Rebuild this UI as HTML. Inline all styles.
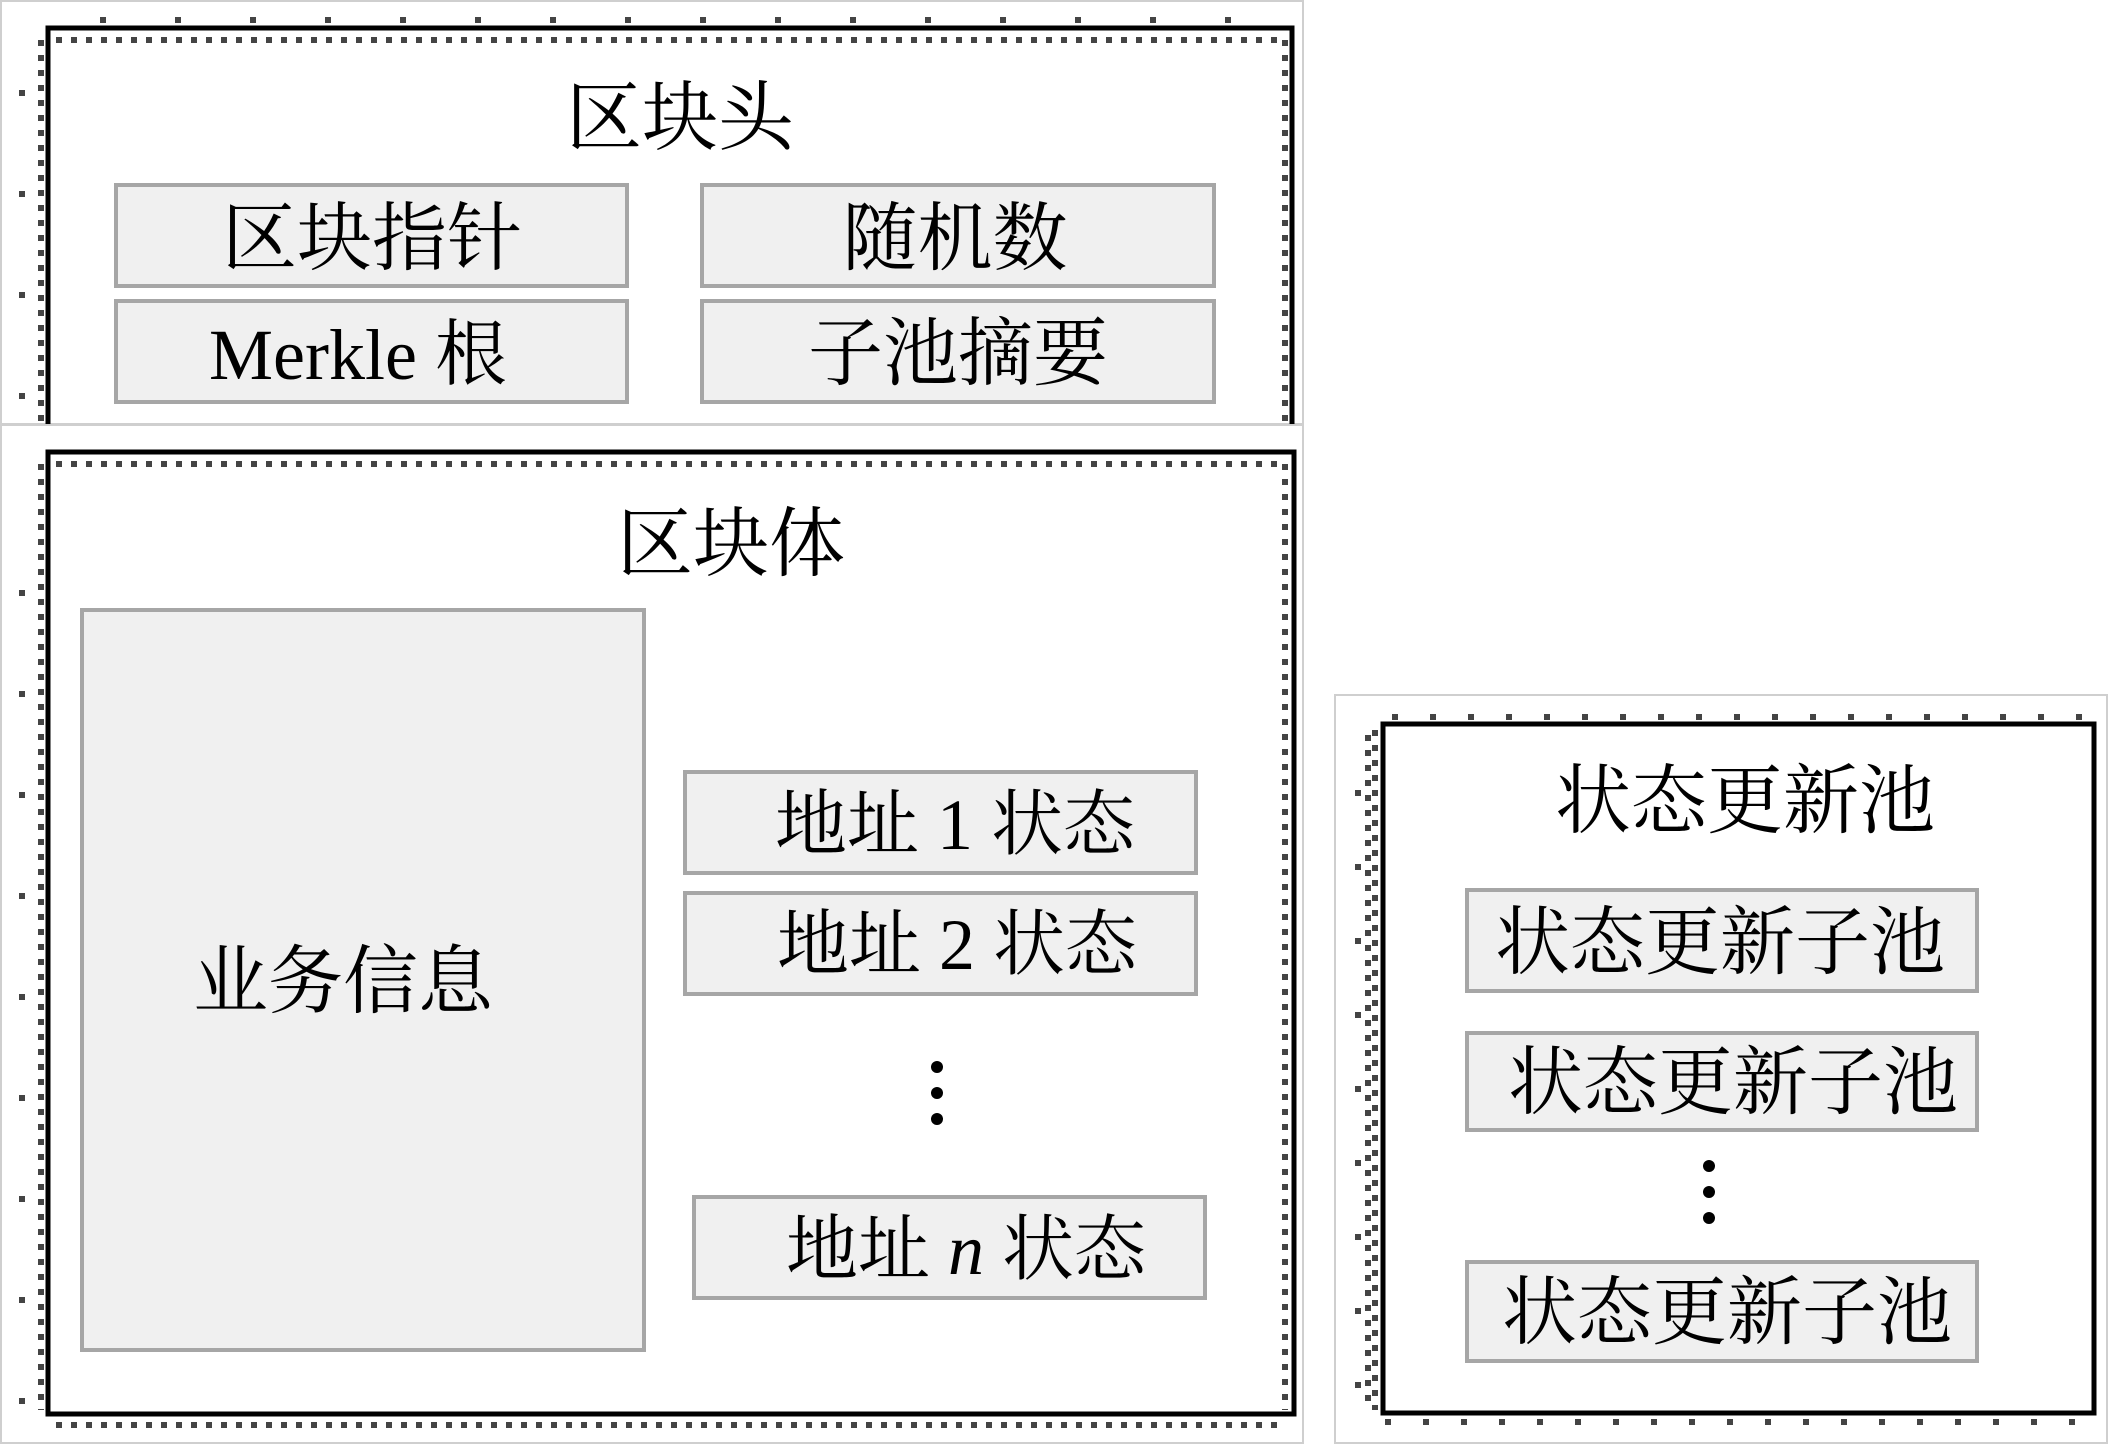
<!DOCTYPE html>
<html><head><meta charset="utf-8"><style>
html,body{margin:0;padding:0;background:#fff;}
svg{display:block;}
text{font-family:"Liberation Serif","Noto Serif CJK SC",serif;fill:#000;}
</style></head><body>
<svg width="2110" height="1445" viewBox="0 0 2110 1445" xmlns="http://www.w3.org/2000/svg">
<rect x="1" y="1" width="1302" height="423" fill="#fff" stroke="#cfcfcf" stroke-width="2"/>
<rect x="1" y="425" width="1302" height="1018" fill="#fff" stroke="#cfcfcf" stroke-width="2"/>
<rect x="1335" y="695" width="772" height="748" fill="#fff" stroke="#cfcfcf" stroke-width="2"/>

<g stroke="#444" stroke-width="6" stroke-dasharray="6 9" fill="none">
  <line x1="56" y1="40" x2="1285" y2="40"/>
  <line x1="41" y1="40" x2="41" y2="424"/>
  <line x1="1285" y1="40" x2="1285" y2="424"/>
  <line x1="100" y1="20" x2="1290" y2="20" stroke-dasharray="6 69"/>
  <line x1="22" y1="90" x2="22" y2="424" stroke-dasharray="6 95"/>
  <line x1="56" y1="464" x2="1285" y2="464"/>
  <line x1="41" y1="464" x2="41" y2="1410"/>
  <line x1="1285" y1="464" x2="1285" y2="1410"/>
  <line x1="56" y1="1425" x2="1285" y2="1425"/>
  <line x1="22" y1="590" x2="22" y2="1410" stroke-dasharray="6 95"/>
  <line x1="1392" y1="717" x2="2090" y2="717" stroke-dasharray="6 32"/>
  <line x1="1375" y1="730" x2="1375" y2="1410"/>
  <line x1="1368" y1="735" x2="1368" y2="1410"/>
  <line x1="1358" y1="790" x2="1358" y2="1410" stroke-dasharray="6 68"/>
  <line x1="1385" y1="1422" x2="2090" y2="1422" stroke-dasharray="6 32"/>
</g>

<polyline points="48,424 48,28 1292,28 1292,424" fill="none" stroke="#000" stroke-width="5"/>
<rect x="48" y="452" width="1246" height="962" fill="none" stroke="#000" stroke-width="5"/>
<rect x="1383" y="724" width="711" height="689" fill="none" stroke="#000" stroke-width="5"/>

<g fill="#f0f0f0" stroke="#a6a6a6" stroke-width="4">
  <rect x="116" y="185" width="511" height="101"/>
  <rect x="702" y="185" width="512" height="101"/>
  <rect x="116" y="301" width="511" height="101"/>
  <rect x="702" y="301" width="512" height="101"/>
  <rect x="82" y="610" width="562" height="740"/>
  <rect x="685" y="772" width="511" height="101"/>
  <rect x="685" y="893" width="511" height="101"/>
  <rect x="694" y="1197" width="511" height="101"/>
  <rect x="1467" y="890" width="510" height="101"/>
  <rect x="1467" y="1033" width="510" height="97"/>
  <rect x="1467" y="1262" width="510" height="99"/>
</g>

<g text-anchor="middle">
<text x="680" y="144" font-size="76">区块头</text>
<text x="372" y="264" font-size="75">区块指针</text>
<text x="955" y="264" font-size="75">随机数</text>
<text x="358" y="379" font-size="72">Merkle 根</text>
<text x="958" y="379" font-size="75">子池摘要</text>

<text x="731" y="570" font-size="76">区块体</text>
<text x="343" y="1007" font-size="75">业务信息</text>
<text x="955" y="849" font-size="72">地址 1 状态</text>
<text x="957" y="969" font-size="72">地址 2 状态</text>
<text x="966" y="1274" font-size="72">地址 <tspan font-style="italic">n</tspan> 状态</text>

<text x="1745" y="827" font-size="76">状态更新池</text>
<text x="1720" y="968" font-size="75">状态更新子池</text>
<text x="1733" y="1108" font-size="75">状态更新子池</text>
<text x="1727" y="1338" font-size="75">状态更新子池</text>
</g>

<g fill="#000">
  <circle cx="937" cy="1067" r="6"/>
  <circle cx="937" cy="1093" r="6"/>
  <circle cx="937" cy="1119" r="6"/>
  <circle cx="1709" cy="1166" r="6"/>
  <circle cx="1709" cy="1192" r="6"/>
  <circle cx="1709" cy="1218" r="6"/>
</g>
</svg>
</body></html>
